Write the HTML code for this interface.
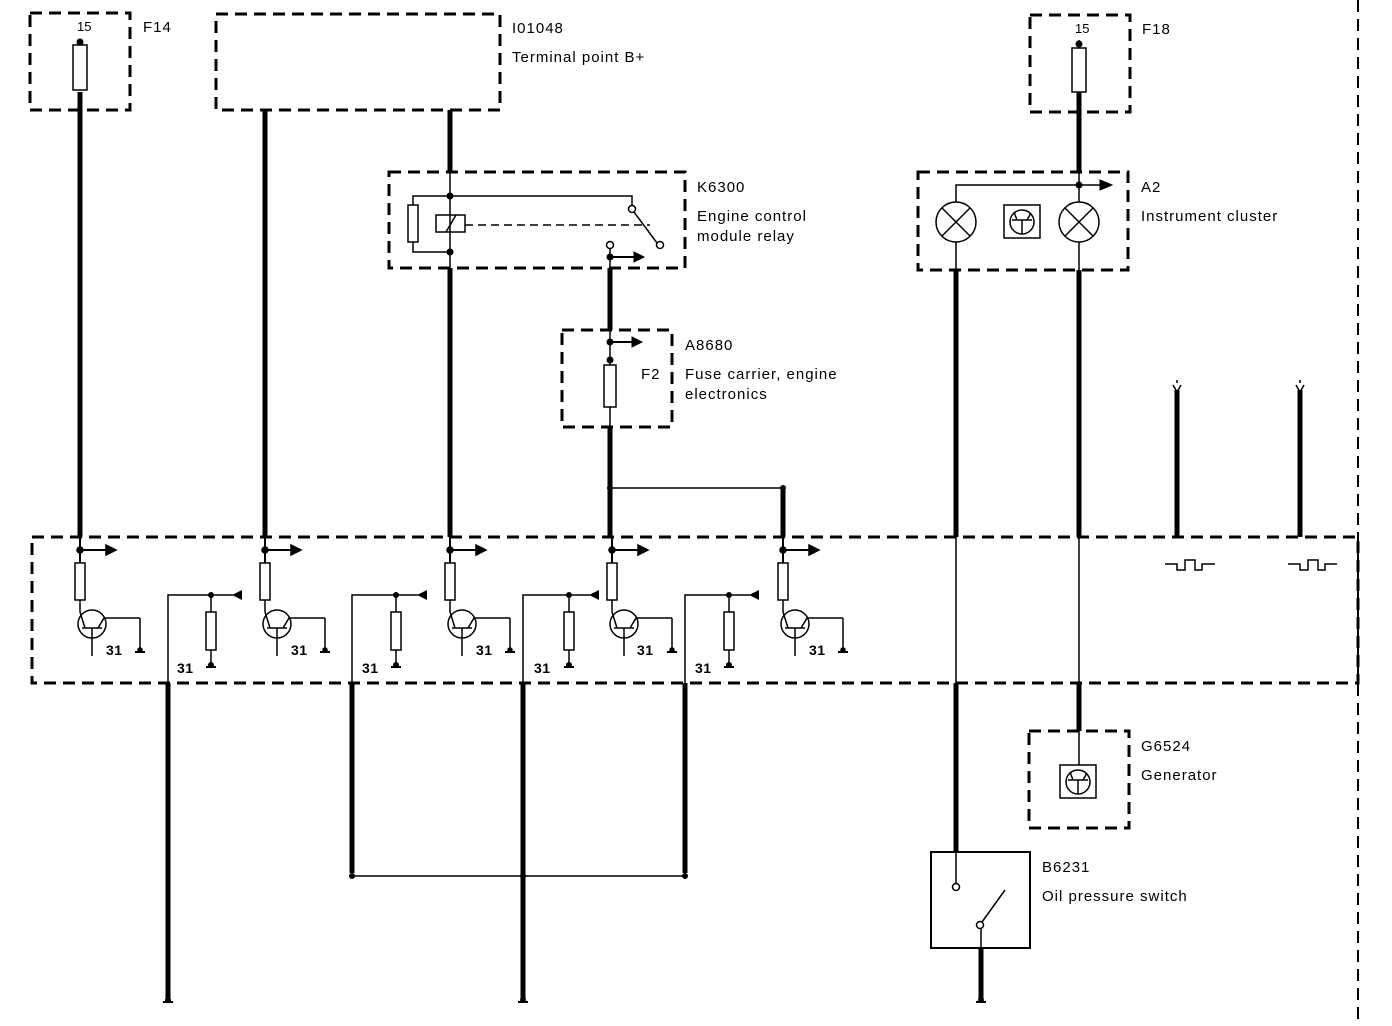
<!DOCTYPE html><html><head><meta charset="utf-8"><style>html,body{margin:0;padding:0;background:#fff}svg{display:block}text{font-family:"Liberation Sans",sans-serif;font-size:15px;letter-spacing:1px;fill:#000}.n{font-weight:bold;font-size:14px;letter-spacing:0.5px}</style></head><body>
<svg width="1392" height="1026" viewBox="0 0 1392 1026" xmlns="http://www.w3.org/2000/svg">
<defs>
<g id="tc" stroke="#000" fill="none" stroke-width="1.5">
<line x1="0" y1="537" x2="0" y2="563" stroke-width="2"/>
<circle cx="0" cy="550" r="3" fill="#000"/>
<line x1="0" y1="550" x2="28" y2="550" stroke-width="2"/>
<polygon points="26,545 36,550 26,555" fill="#000"/>
<rect x="-5" y="563" width="10" height="37"/>
<line x1="0" y1="600" x2="0" y2="612"/>
<circle cx="12" cy="624" r="14"/>
<line x1="2" y1="628" x2="22" y2="628"/>
<line x1="0" y1="612" x2="5" y2="628"/>
<line x1="18" y1="628" x2="24" y2="618"/>
<line x1="12" y1="628" x2="12" y2="656"/>
<line x1="24" y1="618" x2="60" y2="618"/>
<line x1="60" y1="618" x2="60" y2="651"/>
<line x1="55" y1="652" x2="65" y2="652" stroke-width="2"/>
<circle cx="60" cy="650" r="2" fill="#000"/>
</g>
<g id="gnd" stroke="#000" stroke-width="2"><line x1="-5" y1="0" x2="5" y2="0"/><circle cx="0" cy="-2" r="2" fill="#000"/></g>
</defs>
<g stroke="#000" fill="none" stroke-width="3" stroke-dasharray="12,7">
<rect x="30" y="13" width="100" height="97"/>
<rect x="216" y="14" width="284" height="96"/>
<rect x="389" y="172" width="296" height="96"/>
<rect x="562" y="330" width="110" height="97"/>
<rect x="1030" y="15" width="100" height="97"/>
<rect x="918" y="172" width="210" height="98"/>
<rect x="1029" y="731" width="100" height="97"/>
<rect x="32" y="537" width="1326" height="146"/>
<line x1="1358" y1="0" x2="1358" y2="1026" stroke-width="2"/>
</g>
<g stroke="#000" fill="none">
<g stroke-width="5">
<line x1="80" y1="92" x2="80" y2="537"/>
<line x1="265" y1="110" x2="265" y2="537"/>
<line x1="450" y1="110" x2="450" y2="172"/>
<line x1="450" y1="268" x2="450" y2="537"/>
<line x1="610" y1="268" x2="610" y2="330"/>
<line x1="610" y1="427" x2="610" y2="537"/>
<line x1="783" y1="488" x2="783" y2="537"/>
<line x1="168" y1="683" x2="168" y2="1000"/>
<line x1="523" y1="683" x2="523" y2="1000"/>
<line x1="352" y1="683" x2="352" y2="873"/>
<line x1="685" y1="683" x2="685" y2="873"/>
<line x1="1079" y1="92" x2="1079" y2="172"/>
<line x1="956" y1="270" x2="956" y2="537"/>
<line x1="1079" y1="270" x2="1079" y2="537"/>
<line x1="956" y1="683" x2="956" y2="852"/>
<line x1="1079" y1="683" x2="1079" y2="731"/>
<line x1="981" y1="948" x2="981" y2="1000"/>
<line x1="1177" y1="390" x2="1177" y2="537"/>
<line x1="1300" y1="390" x2="1300" y2="537"/>
</g>
<g stroke-width="1.5">
<line x1="956" y1="537" x2="956" y2="683"/>
<line x1="1079" y1="537" x2="1079" y2="683"/>
<line x1="610" y1="488" x2="783" y2="488"/>
<line x1="352" y1="876" x2="685" y2="876"/>
<line x1="80" y1="40" x2="80" y2="45"/>
<line x1="1079" y1="40" x2="1079" y2="48"/>
</g>
<g stroke-width="1.5">
<rect x="73" y="45" width="14" height="45"/>
<rect x="1072" y="48" width="14" height="44"/>
<rect x="604" y="365" width="12" height="42"/>
</g>
<circle cx="80" cy="42" r="3" fill="#000"/>
<circle cx="1079" cy="44" r="3" fill="#000"/>
<g stroke-width="1.5">
<line x1="450" y1="172" x2="450" y2="268"/>
<polyline points="413,205 413,196 632,196 632,206"/>
<polyline points="413,242 413,252 450,252"/>
<rect x="408" y="205" width="10" height="37"/>
<rect x="436" y="215" width="29" height="17"/>
<line x1="446" y1="232" x2="456" y2="215"/>
<line x1="465" y1="225" x2="650" y2="225" stroke-dasharray="8,5"/>
<line x1="634" y1="212" x2="657" y2="243"/>
<circle cx="632" cy="209" r="3.5" fill="#fff"/>
<circle cx="660" cy="245" r="3.5" fill="#fff"/>
<circle cx="610" cy="245" r="3.5" fill="#fff"/>
<line x1="610" y1="248" x2="610" y2="268"/>
<line x1="610" y1="257" x2="636" y2="257" stroke-width="2"/>
<line x1="610" y1="330" x2="610" y2="365"/>
<line x1="610" y1="407" x2="610" y2="427"/>
<line x1="610" y1="342" x2="634" y2="342" stroke-width="2"/>
</g>
<circle cx="450" cy="196" r="3" fill="#000"/>
<circle cx="450" cy="252" r="3" fill="#000"/>
<circle cx="610" cy="257" r="3" fill="#000"/>
<polygon points="634,252 644,257 634,262" fill="#000"/>
<circle cx="610" cy="342" r="3" fill="#000"/>
<polygon points="632,337 642,342 632,347" fill="#000"/>
<circle cx="610" cy="360" r="3" fill="#000"/>
<circle cx="610" cy="488" r="2.5" fill="#000"/>
<circle cx="783" cy="488" r="2.5" fill="#000"/>
<circle cx="352" cy="876" r="2.5" fill="#000"/>
<circle cx="523" cy="876" r="2.5" fill="#000"/>
<circle cx="685" cy="876" r="2.5" fill="#000"/>
<g stroke-width="1.5">
<polyline points="956,202 956,185 1100,185"/>
<line x1="1079" y1="172" x2="1079" y2="202"/>
<circle cx="956" cy="222" r="20"/><line x1="942" y1="208" x2="970" y2="236"/><line x1="970" y1="208" x2="942" y2="236"/>
<circle cx="1079" cy="222" r="20"/><line x1="1065" y1="208" x2="1093" y2="236"/><line x1="1093" y1="208" x2="1065" y2="236"/>
<line x1="956" y1="242" x2="956" y2="270"/><line x1="1079" y1="242" x2="1079" y2="270"/>
<rect x="1004" y="205" width="36" height="33"/>
<circle cx="1022" cy="222" r="12"/><line x1="1012" y1="220" x2="1032" y2="220"/><line x1="1022" y1="220" x2="1022" y2="234"/><line x1="1014" y1="212" x2="1017" y2="220"/><line x1="1027" y1="220" x2="1031" y2="213"/>
<rect x="1060" y="765" width="36" height="33"/>
<circle cx="1078" cy="782" r="12"/><line x1="1068" y1="780" x2="1088" y2="780"/><line x1="1078" y1="780" x2="1078" y2="794"/><line x1="1070" y1="772" x2="1073" y2="780"/><line x1="1083" y1="780" x2="1087" y2="773"/>
<line x1="1079" y1="731" x2="1079" y2="765"/>
</g>
<circle cx="1079" cy="185" r="3" fill="#000"/>
<polygon points="1100,180 1112,185 1100,190" fill="#000"/>
<rect x="931" y="852" width="99" height="96" stroke-width="2"/>
<g stroke-width="1.5">
<line x1="956" y1="852" x2="956" y2="884"/>
<line x1="982" y1="922" x2="1005" y2="890"/>
<line x1="981" y1="928" x2="981" y2="948"/>
<circle cx="956" cy="887" r="3.5" fill="#fff"/>
<circle cx="980" cy="925" r="3.5" fill="#fff"/>
</g>
<g stroke-width="1.5">
<polyline points="1165,564 1177,564 1177,570 1185,570 1185,560 1195,560 1195,570 1202,570 1202,564 1215,564"/>
<polyline points="1288,564 1300,564 1300,570 1308,570 1308,560 1318,560 1318,570 1325,570 1325,564 1337,564"/>
<polyline points="1173,385 1177,392 1181,385"/><line x1="1177" y1="380" x2="1177" y2="383"/>
<polyline points="1296,385 1300,392 1304,385"/><line x1="1300" y1="380" x2="1300" y2="383"/>
</g>
<g stroke-width="1.5">
<polyline points="168,683 168,595 233,595"/><line x1="211" y1="595" x2="211" y2="612"/><rect x="206" y="612" width="10" height="38"/><line x1="211" y1="650" x2="211" y2="665"/>
<polyline points="352,683 352,595 418,595"/><line x1="396" y1="595" x2="396" y2="612"/><rect x="391" y="612" width="10" height="38"/><line x1="396" y1="650" x2="396" y2="665"/>
<polyline points="523,683 523,595 590,595"/><line x1="569" y1="595" x2="569" y2="612"/><rect x="564" y="612" width="10" height="38"/><line x1="569" y1="650" x2="569" y2="665"/>
<polyline points="685,683 685,595 750,595"/><line x1="729" y1="595" x2="729" y2="612"/><rect x="724" y="612" width="10" height="38"/><line x1="729" y1="650" x2="729" y2="665"/>
</g>
</g>
<g fill="#000">
<circle cx="211" cy="595" r="3"/><polygon points="232,595 242,590 242,600"/>
<circle cx="396" cy="595" r="3"/><polygon points="417,595 427,590 427,600"/>
<circle cx="569" cy="595" r="3"/><polygon points="589,595 599,590 599,600"/>
<circle cx="729" cy="595" r="3"/><polygon points="749,595 759,590 759,600"/>
</g>
<use href="#gnd" x="211" y="667"/><use href="#gnd" x="396" y="667"/><use href="#gnd" x="569" y="667"/><use href="#gnd" x="729" y="667"/>
<use href="#gnd" x="168" y="1002"/><use href="#gnd" x="523" y="1002"/><use href="#gnd" x="981" y="1002"/>
<use href="#tc" x="80"/><use href="#tc" x="265"/><use href="#tc" x="450"/><use href="#tc" x="612"/><use href="#tc" x="783"/>
<text class="n" x="106" y="655">31</text><text class="n" x="291" y="655">31</text><text class="n" x="476" y="655">31</text><text class="n" x="637" y="655">31</text><text class="n" x="809" y="655">31</text>
<text class="n" x="177" y="673">31</text><text class="n" x="362" y="673">31</text><text class="n" x="534" y="673">31</text><text class="n" x="695" y="673">31</text>
<text x="77" y="31" style="font-size:13px;letter-spacing:0">15</text><text x="1075" y="33" style="font-size:13px;letter-spacing:0">15</text>
<text x="143" y="32">F14</text><text x="1142" y="34">F18</text>
<text x="512" y="33">I01048</text><text x="512" y="62">Terminal point B+</text>
<text x="697" y="192">K6300</text><text x="697" y="221">Engine  control</text><text x="697" y="241">module relay</text>
<text x="685" y="350">A8680</text><text x="641" y="379">F2</text><text x="685" y="379">Fuse carrier,  engine</text><text x="685" y="399">electronics</text>
<text x="1141" y="192">A2</text><text x="1141" y="221">Instrument cluster</text>
<text x="1141" y="751">G6524</text><text x="1141" y="780">Generator</text>
<text x="1042" y="872">B6231</text><text x="1042" y="901">Oil pressure switch</text>
</svg></body></html>
